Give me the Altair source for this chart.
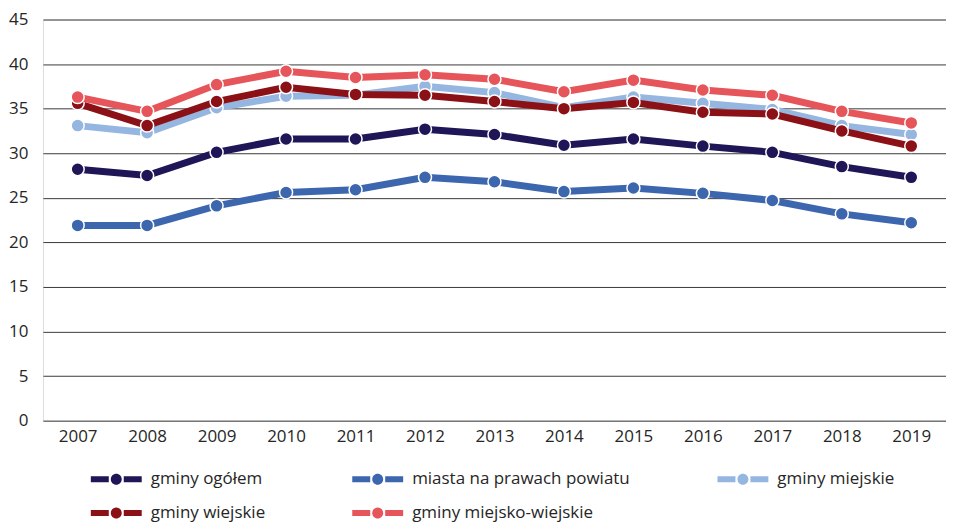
import altair as alt
import pandas as pd

years = ["2007", "2008", "2009", "2010", "2011", "2012", "2013", "2014", "2015", "2016", "2017", "2018", "2019"]
series_names = ["gminy ogółem", "miasta na prawach powiatu", "gminy miejskie", "gminy wiejskie", "gminy miejsko-wiejskie"]
colors = ["#1e1656", "#3c66ad", "#95b6e0", "#8b1116", "#e5555a"]

gminy_ogolem = [28.2, 27.5, 30.1, 31.6, 31.6, 32.7, 32.1, 30.9, 31.6, 30.8, 30.1, 28.5, 27.3]
miasta_npp = [21.9, 21.9, 24.1, 25.6, 25.9, 27.3, 26.8, 25.7, 26.1, 25.5, 24.7, 23.2, 22.2]
gminy_miejskie = [33.1, 32.3, 35.1, 36.4, 36.5, 37.5, 36.8, 35.1, 36.3, 35.6, 34.9, 33.1, 32.1]
gminy_wiejskie = [35.6, 33.1, 35.8, 37.4, 36.6, 36.5, 35.8, 35.0, 35.7, 34.6, 34.4, 32.5, 30.8]
gminy_mw = [36.3, 34.7, 37.7, 39.2, 38.5, 38.8, 38.3, 36.9, 38.2, 37.1, 36.5, 34.7, 33.4]

all_values = [gminy_ogolem, miasta_npp, gminy_miejskie, gminy_wiejskie, gminy_mw]

rows = []
for name, vals in zip(series_names, all_values):
    for y, v in zip(years, vals):
        rows.append({"rok": y, "seria": name, "wartosc": v})
df = pd.DataFrame(rows)

FONT = "Open Sans"
TXT = "#262626"
FS = 17

legend_path = ("M-5.1,-0.6 L-1.5,-0.6 L-1.5,0.6 L-5.1,0.6 Z "
               "M1.5,-0.6 L5.1,-0.6 L5.1,0.6 L1.5,0.6 Z "
               "M-1.1,0 A1.1,1.1 0 1,0 1.1,0 A1.1,1.1 0 1,0 -1.1,0 Z")

leg = alt.Legend(
    title=None, orient="none", legendX=65, legendY=452, direction="horizontal",
    columns=3, symbolType=legend_path, symbolSize=100, symbolStrokeWidth=0,
    symbolOpacity=1, labelOffset=26, columnPadding=87, rowPadding=16,
    labelFontSize=FS, labelFont=FONT, labelColor=TXT, labelLimit=400,
)

x_enc = alt.X("rok:N", sort=years, title=None,
              scale=alt.Scale(type="point", padding=0.5),
              axis=alt.Axis(labelAngle=0, domain=False, ticks=False, grid=False,
                            labelFontSize=FS, labelColor=TXT, labelFont=FONT, labelPadding=8))
y_enc = alt.Y("wartosc:Q", title=None,
              scale=alt.Scale(domain=[0, 45], nice=False),
              axis=alt.Axis(values=list(range(0, 50, 5)), domain=False, ticks=False,
                            gridColor="#3a3a3a", gridWidth=1, labelFontSize=FS,
                            labelColor=TXT, labelFont=FONT, labelPadding=15))
color_enc = alt.Color("seria:N", scale=alt.Scale(domain=series_names, range=colors), legend=leg)

base = alt.Chart(df)
layers = []
for name in series_names:
    sub = base.transform_filter(alt.datum.seria == name)
    pts = sub.mark_point(filled=True, size=170, stroke="white", strokeWidth=1.5, opacity=1).encode(
        x=x_enc, y=y_enc, color=color_enc,
    )
    line = sub.mark_line(strokeWidth=7).encode(
        x=x_enc, y=y_enc, color=color_enc,
    )
    layers += [line, pts]

chart = alt.layer(*layers).properties(
    width=905, height=402,
    autosize=alt.AutoSizeParams(type="none"),
    padding={"left": 35, "top": 11, "right": 0, "bottom": 102},
).configure_view(stroke=None).configure(font=FONT)

chart.save("out.html", embed_options={"renderer": "svg", "actions": False})
